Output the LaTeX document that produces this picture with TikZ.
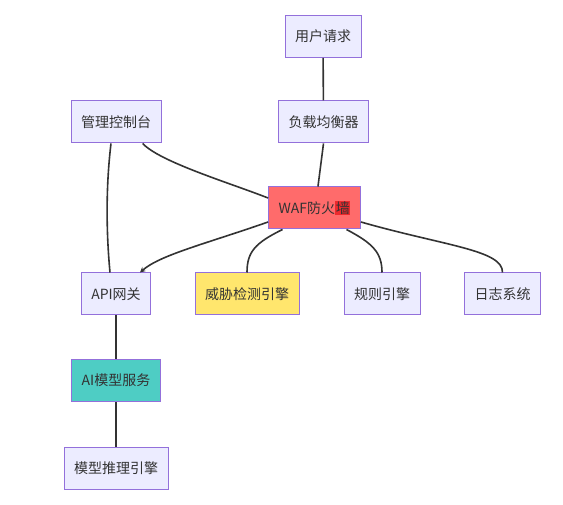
\documentclass[tikz,border=0pt]{standalone}
\usepackage{fontspec}
\setmainfont{Noto Sans CJK SC}
\usetikzlibrary{arrows.meta}
\definecolor{boxfill}{HTML}{ECECFF}
\definecolor{boxline}{HTML}{9370DB}
\definecolor{ink}{HTML}{333333}
\definecolor{wafred}{HTML}{FF6B6B}
\definecolor{threatyellow}{HTML}{FFE66D}
\definecolor{aiteal}{HTML}{4ECDC4}
\definecolor{hlred}{HTML}{EE2A2E}

\begin{document}
\begin{tikzpicture}[x=0.75pt, y=-0.75pt, box/.style={draw=boxline, line width=0.75pt, fill=boxfill, text=ink, inner xsep=7.5pt, minimum height=31.5pt, font=\fontsize{10.5}{12}\selectfont}, link/.style={draw=ink, line width=1.2pt}, arrowlink/.style={link, -{Stealth[length=4pt, width=4pt]}}]

\useasboundingbox (0,0) rectangle (563,505);
\node[box] (user) at (323,36.5) {用户请求};
\node[box] (mgmt) at (116,122) {管理控制台};
\node[box] (lb) at (323.5,122) {负载均衡器};
\node[box, fill=wafred, minimum width=66.75pt] (waf) at (314.5,208) {WAF防火{\setlength\fboxsep{0.5pt}\colorbox{hlred}{墙}}};
\node[box] (api) at (116,294) {API网关};
\node[box, fill=threatyellow] (threat) at (247,294) {威胁检测引擎};
\node[box] (rules) at (382,294) {规则引擎};
\node[box] (log) at (502.5,294) {日志系统};
\node[box, fill=aiteal] (ai) at (116,380.5) {AI模型服务};
\node[box] (infer) at (116,468) {模型推理引擎};

\draw[link] (user) -- (lb);
\draw[link] (lb.south) -- ([xshift=2.6pt]waf.north);
\draw[link] ([xshift=20pt]mgmt.south) .. controls (160,162) and (230,183) .. ([yshift=7.5pt]waf.west);
\draw[link] ([xshift=-3.75pt]mgmt.south) .. controls (106,185) and (106,230) .. ([xshift=-4.5pt]api.north);
\draw[arrowlink] ([yshift=-10.5pt]waf.west) .. controls (205,244) and (160,255) .. ([xshift=18pt]api.north);
\draw[link] ([xshift=-24pt]waf.south) .. controls (255,243) and (247,252) .. (threat.north);
\draw[link] ([xshift=24pt]waf.south) .. controls (372,243) and (382,252) .. (rules.north);
\draw[link] ([yshift=-10.5pt]waf.east) .. controls (445,246) and (503,250) .. (log.north);
\draw[link] (api) -- (ai);
\draw[link] (ai) -- (infer);
\end{tikzpicture}
\end{document}
